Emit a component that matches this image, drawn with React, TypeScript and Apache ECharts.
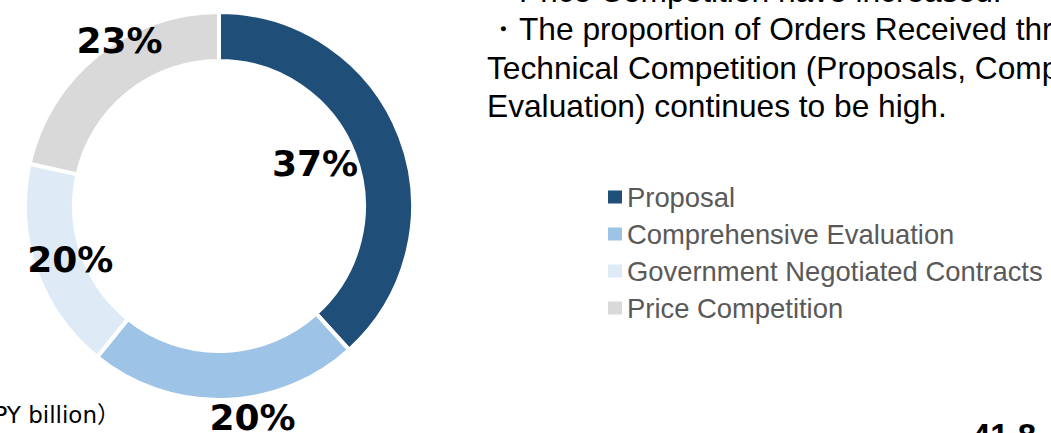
import React, { useEffect, useRef } from "react";
import * as echarts from "echarts";

// ---- data ----
const categories = [
  "Proposal",
  "Comprehensive Evaluation",
  "Government Negotiated Contracts",
  "Price Competition",
];
// share of each order type (%), as drawn by the ring
const shares = [38.3, 22.5, 17.7, 21.5];
// data labels as printed on the slide
const labelTexts = ["37%", "20%", "20%", "23%"];
const noteLines = [
  "・Price Competition have increased.",
  "・The proportion of Orders Received through",
  "Technical Competition (Proposals, Comprehensive",
  "Evaluation) continues to be high.",
];
const unitText = "（JPY billion）";
const totalText = "41.8";

// ---- styles / layout ----
const colors = ["#1F4E79", "#9DC3E6", "#DEEBF7", "#D9D9D9"];
const CX = 219;
const CY = 206;
// label placement: [radius, angle offset in degrees] per slice
const labelPlace: [number, number][] = [
  [105, -2.7],
  [214, -7.4],
  [158, -0.4],
  [193, 7.7],
];

export default function App() {
  const ref = useRef<HTMLDivElement>(null);

  useEffect(() => {
    if (!ref.current) return;
    const chart = echarts.init(ref.current, null, { renderer: "svg" });

    const total = shares.reduce((a, b) => a + b, 0);
    const mids: number[] = [];
    let acc = 0;
    shares.forEach((v) => {
      mids.push(((acc + v / 2) / total) * 360);
      acc += v;
    });

    const noteFont = "31.7px 'Liberation Sans', Arial, sans-serif";
    const noteX = 487;
    const noteY = [-9, 29, 67.5, 106];

    const option: any = {
      animation: false,
      backgroundColor: "#ffffff",
      color: colors,
      legend: {
        orient: "vertical",
        left: 608,
        top: 182,
        padding: 0,
        itemWidth: 14,
        itemHeight: 13,
        itemGap: 7,
        icon: "rect",
        selectedMode: false,
        itemStyle: { borderWidth: 0 },
        textStyle: {
          fontFamily: "'Liberation Sans', Arial, sans-serif",
          fontSize: 27.4,
          lineHeight: 30,
          color: "#595959",
        },
        data: categories,
      },
      series: [
        {
          type: "pie",
          center: [CX, CY],
          radius: [145, 194],
          startAngle: 90,
          clockwise: true,
          silent: true,
          avoidLabelOverlap: false,
          itemStyle: { borderColor: "#ffffff", borderWidth: 4 },
          label: {
            show: true,
            position: "inside",
            formatter: (p: any) => labelTexts[p.dataIndex],
            fontFamily: "'DejaVu Sans', Verdana, sans-serif",
            fontWeight: "bold",
            fontSize: 36,
            color: "#000000",
            textBorderWidth: 0,
          },
          labelLine: { show: false },
          labelLayout: (params: any) => {
            const i = params.dataIndex;
            const [r, da] = labelPlace[i];
            const a = ((mids[i] + da) * Math.PI) / 180;
            return {
              x: CX + r * Math.sin(a),
              y: CY - r * Math.cos(a),
              align: "center",
              verticalAlign: "middle",
            };
          },
          data: categories.map((name, i) => ({ name, value: shares[i] })),
        },
      ],
      graphic: [
        ...noteLines.map((t, i) => ({
          type: "text",
          x: noteX,
          y: noteY[i],
          style: {
            text: t,
            font: noteFont,
            fill: "#000000",
            textAlign: "left",
            textVerticalAlign: "middle",
          },
        })),
        {
          type: "text",
          x: 120,
          y: 415,
          style: {
            text: unitText,
            font: "23px 'DejaVu Sans', 'Noto Sans CJK JP', sans-serif",
            fill: "#000000",
            textAlign: "right",
            textVerticalAlign: "middle",
          },
        },
        {
          type: "text",
          x: 972,
          y: 435,
          style: {
            text: totalText,
            font: "bold 33px 'Liberation Sans', Arial, sans-serif",
            fill: "#000000",
            textAlign: "left",
            textVerticalAlign: "middle",
          },
        },
      ],
    };

    chart.setOption(option);
    return () => chart.dispose();
  }, []);

  return (
    <div
      ref={ref}
      style={{ position: "fixed", left: 0, top: 0, width: 1051, height: 433 }}
    />
  );
}
